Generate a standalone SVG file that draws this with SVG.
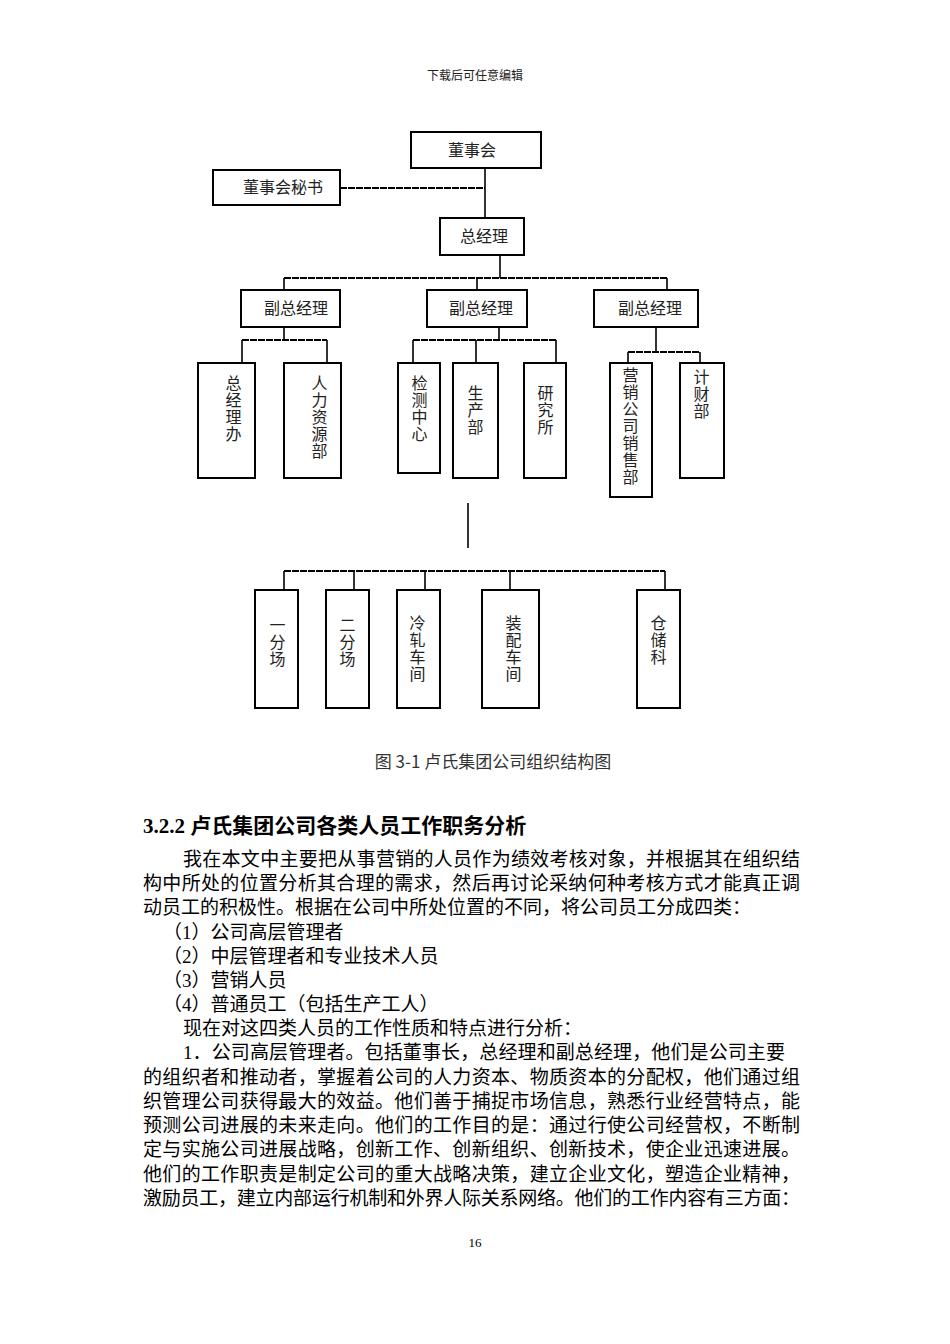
<svg xmlns="http://www.w3.org/2000/svg" width="950" height="1344" viewBox="0 0 950 1344">
<style>
.b{fill:#fff;stroke:#000;stroke-width:2}
.l{stroke:#000;stroke-width:1.6;fill:none}
.d{stroke:#000;stroke-width:1.8;fill:none;stroke-dasharray:7 1}
.t{font-family:"Liberation Serif","Noto Sans CJK SC",serif;font-size:16px;fill:#222}
.v{font-family:"Liberation Serif","Noto Sans CJK SC",serif;font-size:16px;fill:#222;writing-mode:vertical-rl;letter-spacing:1px}
.p{font-family:"Liberation Serif","Noto Sans CJK SC",serif;font-size:19px;fill:#000}
</style>
<rect width="950" height="1344" fill="#fff"/>
<text x="475" y="80" class="t" text-anchor="middle" style="font-size:12px">下载后可任意编辑</text>
<g id="connectors">
<path class="l" d="M485 168V218"/>
<path class="d" d="M340 188H485"/>
<path class="l" d="M500 255V278"/>
<path class="d" d="M284 278H667"/>
<path class="l" d="M284 278V290M477 278V290M667 278V290"/>
<path class="l" d="M284 327V340M242 340V363M327 340V363"/>
<path class="d" d="M242 340H327"/>
<path class="l" d="M499 327V340M413 340V363M476 340V363M556 340V363"/>
<path class="d" d="M413 340H556"/>
<path class="l" d="M656 327V352M628 352V363M700 352V363"/>
<path class="d" d="M628 352H700"/>
<path class="l" d="M468 503V548"/>
<path class="d" d="M284 571H665" stroke-width="2.4"/>
<path class="l" d="M284 571V590M354 571V590M425 571V590M510 571V590M665 571V590"/>
</g>
<g id="n1"><rect class="b" x="411" y="132" width="130" height="36"/><text class="t" x="472" y="156" text-anchor="middle">董事会</text></g>
<g id="n2"><rect class="b" x="213" y="170" width="127" height="35"/><text class="t" x="283" y="193" text-anchor="middle">董事会秘书</text></g>
<g id="n3"><rect class="b" x="440" y="218" width="84" height="37"/><text class="t" x="484" y="242" text-anchor="middle">总经理</text></g>
<g id="n4"><rect class="b" x="241" y="290" width="99" height="37"/><text class="t" x="296" y="314" text-anchor="middle">副总经理</text></g>
<g id="n5"><rect class="b" x="427" y="290" width="100" height="37"/><text class="t" x="481" y="314" text-anchor="middle">副总经理</text></g>
<g id="n6"><rect class="b" x="594" y="290" width="104" height="37"/><text class="t" x="650" y="314" text-anchor="middle">副总经理</text></g>
<g id="n7"><rect class="b" x="198" y="363" width="57" height="115"/><text class="v" x="232" y="375">总经理办</text></g>
<g id="n8"><rect class="b" x="284" y="363" width="57" height="115"/><text class="v" x="318" y="375">人力资源部</text></g>
<g id="n9"><rect class="b" x="398" y="363" width="42" height="110"/><text class="v" x="418" y="375">检测中心</text></g>
<g id="n10"><rect class="b" x="453" y="363" width="45" height="115"/><text class="v" x="474" y="385">生产部</text></g>
<g id="n11"><rect class="b" x="524" y="363" width="42" height="115"/><text class="v" x="544" y="385">研究所</text></g>
<g id="n12"><rect class="b" x="610" y="363" width="42" height="134"/><text class="v" x="629" y="367">营销公司销售部</text></g>
<g id="n13"><rect class="b" x="680" y="363" width="44" height="115"/><text class="v" x="700" y="369">计财部</text></g>
<g id="n14"><rect class="b" x="255" y="590" width="43" height="118"/><text class="v" x="276" y="617">一分场</text></g>
<g id="n15"><rect class="b" x="326" y="590" width="43" height="118"/><text class="v" x="346" y="617">二分场</text></g>
<g id="n16"><rect class="b" x="397" y="590" width="43" height="118"/><text class="v" x="416" y="615">冷轧车间</text></g>
<g id="n17"><rect class="b" x="482" y="590" width="57" height="118"/><text class="v" x="512" y="615">装配车间</text></g>
<g id="n18"><rect class="b" x="637" y="590" width="43" height="118"/><text class="v" x="657" y="615">仓储科</text></g>
<text x="493" y="768" text-anchor="middle" style="font-size:17px;font-family:'Noto Sans CJK SC',sans-serif;fill:#333">图 3-1 卢氏集团公司组织结构图</text>
<text x="143" y="833" style="font-family:'Liberation Serif','Noto Sans CJK SC',serif;font-size:21px;font-weight:bold">3.2.2 卢氏集团公司各类人员工作职务分析</text>
<g>
<text class="p" x="183" y="866" textLength="617">我在本文中主要把从事营销的人员作为绩效考核对象，并根据其在组织结</text>
<text class="p" x="143" y="890" textLength="657">构中所处的位置分析其合理的需求，然后再讨论采纳何种考核方式才能真正调</text>
<text class="p" x="143" y="914">动员工的积极性。根据在公司中所处位置的不同，将公司员工分成四类：</text>
<text class="p" x="163" y="939">（1）公司高层管理者</text>
<text class="p" x="163" y="963">（2）中层管理者和专业技术人员</text>
<text class="p" x="163" y="987">（3）营销人员</text>
<text class="p" x="163" y="1011">（4）普通员工（包括生产工人）</text>
<text class="p" x="183" y="1035">现在对这四类人员的工作性质和特点进行分析：</text>
<text class="p" x="183" y="1059" textLength="602">1．公司高层管理者。包括董事长，总经理和副总经理，他们是公司主要</text>
<text class="p" x="143" y="1084" textLength="657">的组织者和推动者，掌握着公司的人力资本、物质资本的分配权，他们通过组</text>
<text class="p" x="143" y="1108" textLength="657">织管理公司获得最大的效益。他们善于捕捉市场信息，熟悉行业经营特点，能</text>
<text class="p" x="143" y="1132" textLength="657">预测公司进展的未来走向。他们的工作目的是：通过行使公司经营权，不断制</text>
<text class="p" x="143" y="1156" textLength="657">定与实施公司进展战略，创新工作、创新组织、创新技术，使企业迅速进展。</text>
<text class="p" x="143" y="1181" textLength="657">他们的工作职责是制定公司的重大战略决策，建立企业文化，塑造企业精神，</text>
<text class="p" x="143" y="1205" textLength="657">激励员工，建立内部运行机制和外界人际关系网络。他们的工作内容有三方面：</text>
</g>
<text x="475" y="1247" text-anchor="middle" style="font-family:'Liberation Serif',serif;font-size:13px">16</text>
</svg>
